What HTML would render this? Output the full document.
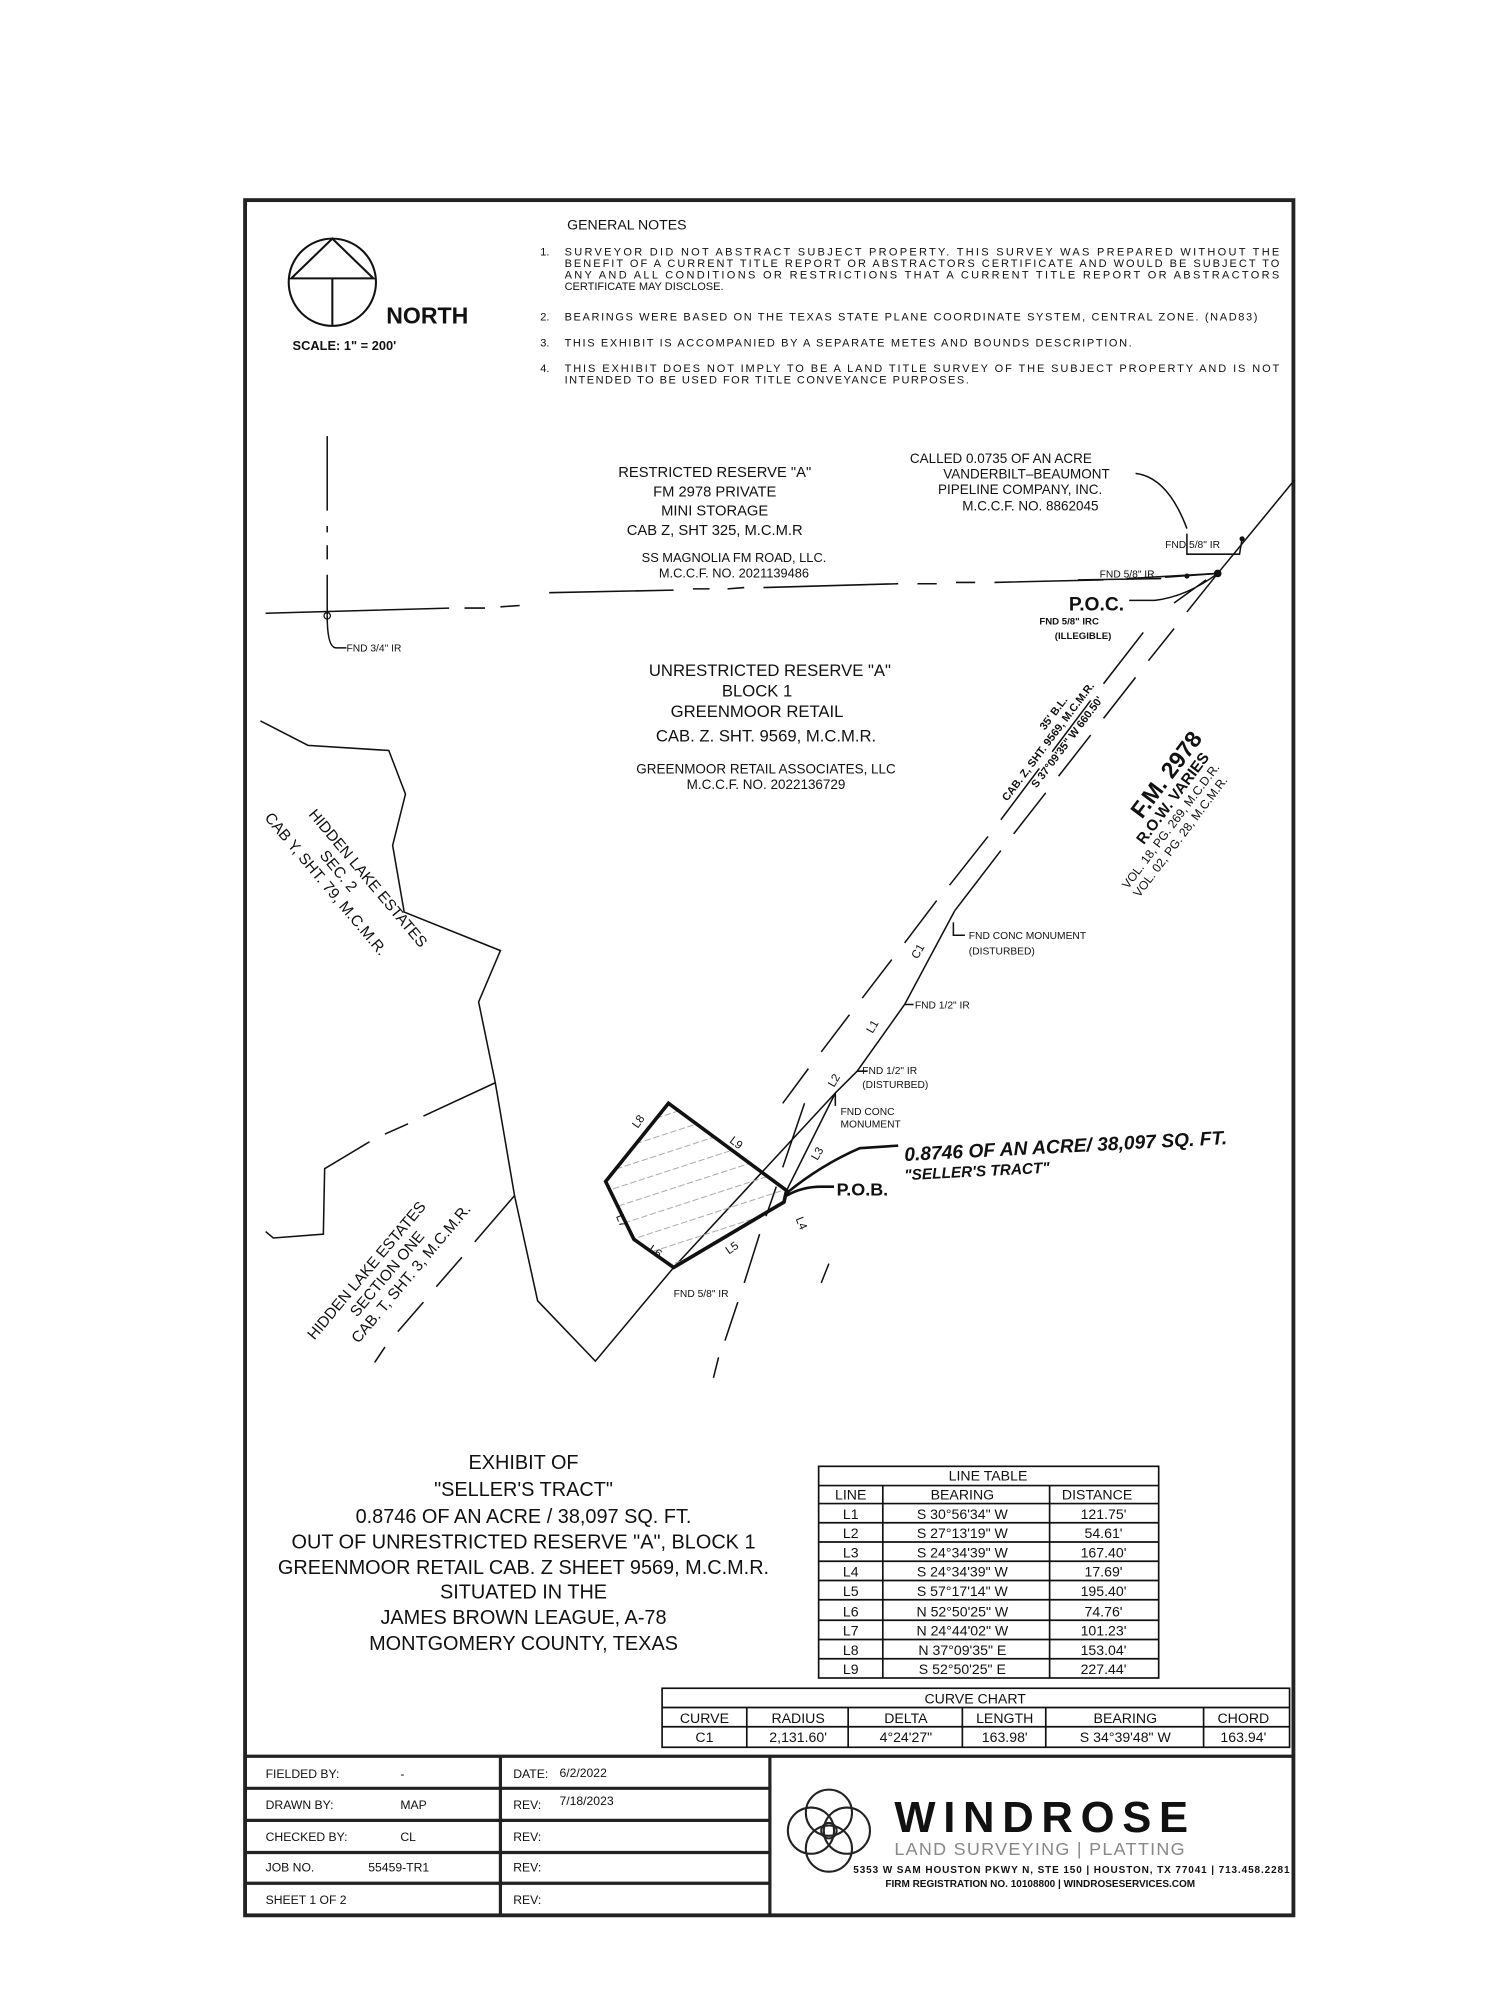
<!DOCTYPE html>
<html><head><meta charset="utf-8"><style>
html,body{margin:0;padding:0;background:#fff}
svg{display:block}
text{font-family:"Liberation Sans",sans-serif;fill:#111}
</style></head><body>
<svg width="1500" height="2000" viewBox="0 0 1169 1559" preserveAspectRatio="none" xmlns="http://www.w3.org/2000/svg">
<rect x="191" y="156" width="817" height="1337" fill="none" stroke="#222" stroke-width="3"/>
<!-- North -->
<circle cx="259" cy="220" r="34" fill="none" stroke="#111" stroke-width="1.6"/>
<path d="M259 186 L227 217 L291 217 Z M259 217 L259 254" fill="none" stroke="#111" stroke-width="1.6"/>
<text x="301" y="252" font-size="18" font-weight="bold">NORTH</text>
<text x="228" y="273" font-size="10" font-weight="bold">SCALE: 1" = 200'</text>
<!-- notes -->
<g font-size="8.6">
<text x="442" y="179" font-size="11">GENERAL NOTES</text>
<text x="421" y="199">1.</text>
<text x="440" y="199" textLength="557">SURVEYOR DID NOT ABSTRACT SUBJECT PROPERTY. THIS SURVEY WAS PREPARED WITHOUT THE</text>
<text x="440" y="208" textLength="557">BENEFIT OF A CURRENT TITLE REPORT OR ABSTRACTORS CERTIFICATE AND WOULD BE SUBJECT TO</text>
<text x="440" y="217" textLength="557">ANY AND ALL CONDITIONS OR RESTRICTIONS THAT A CURRENT TITLE REPORT OR ABSTRACTORS</text>
<text x="440" y="226">CERTIFICATE MAY DISCLOSE.</text>
<text x="421" y="250">2.</text>
<text x="440" y="250" textLength="540">BEARINGS WERE BASED ON THE TEXAS STATE PLANE COORDINATE SYSTEM, CENTRAL ZONE. (NAD83)</text>
<text x="421" y="270">3.</text>
<text x="440" y="270" textLength="442">THIS EXHIBIT IS ACCOMPANIED BY A SEPARATE METES AND BOUNDS DESCRIPTION.</text>
<text x="421" y="290">4.</text>
<text x="440" y="290" textLength="557">THIS EXHIBIT DOES NOT IMPLY TO BE A LAND TITLE SURVEY OF THE SUBJECT PROPERTY AND IS NOT</text>
<text x="440" y="299" textLength="315">INTENDED TO BE USED FOR TITLE CONVEYANCE PURPOSES.</text>
</g>
<!-- top left lines -->
<g stroke="#111" stroke-width="1.2" fill="none">
<path d="M255 340 V398 M255 410 V415 M255 425 V436 M255 448 V480"/>
<path d="M207 478 L350 474 M362 474 L378 474 M390 473 L405 472"/>
<path d="M255 480 Q255 505 262 505 L270 505"/>
<path d="M428 462 L525 460 M540 459 L553 459 M567 459 L580 458 M595 458 L700 455 M715 455 L730 455 M745 454 L760 454 M775 454 L860 452 M878 451 L949 447"/>
<path d="M1009 374 L949 447"/>
<path d="M949 447 L925 477 M915 490 L895 515 M885 528 L860 560 M850 573 L825 605 M815 618 L790 650 M780 663 L744 710" />
<path d="M744 710 L705 783 L668 835 L651 852 L613 928"/>
<path d="M891 493 L860 533 M850 546 L820 586 M810 599 L780 639 M770 652 L740 690 M730 702 L705 735 M695 748 L672 778 M662 791 L640 820 M630 833 L610 860"/>
<path d="M651 852 L525 988 L464 1061 L419 1014 L401 932 L386 844 L373 781 L390 741 L315 711 L306 659 L316 619 L303 585 L240 581 L203 562"/>
<path d="M386 844 L330 870 M318 876 L300 884 M288 890 L253 911 L252 962 L213 965 L207 960"/>
<path d="M401 932 L370 968 M360 980 L340 1003 M330 1015 L310 1038 M300 1050 L292 1062"/>
<path d="M627 860 L610 910 M605 925 L597 948 M592 962 L580 1000 M575 1015 L565 1045 M560 1058 L556 1074"/>
<path d="M925 416 L925 432 L966 432 L968 420 M908 450 L949 447 M840 452 L905 451"/>
<path d="M880 468 L900 468 Q925 465 949 447 M915 470 L940 452"/>
<path d="M885 369 Q910 372 925 412"/>
<path d="M743 719 L743 729 L752 729 M705 783 L712 783 M668 835 L676 835 M651 852 L651 862 M640 1000 L646 985"/>
</g>
<circle cx="968" cy="420" r="2" fill="#111"/><circle cx="949" cy="447" r="3" fill="#111"/><circle cx="925" cy="449" r="2" fill="#111"/>
<circle cx="255" cy="480" r="2.5" fill="none" stroke="#111"/>
<!-- tract -->
<defs><pattern id="h" width="14" height="14" patternUnits="userSpaceOnUse" patternTransform="rotate(-18)"><line x1="0" y1="7" x2="14" y2="7" stroke="#aaa" stroke-width="0.8" stroke-dasharray="5 2"/></pattern></defs>
<polygon points="521,860 613,928 611,937 525,988 494,966 472,921" fill="url(#h)" stroke="#111" stroke-width="2.8"/>
<path d="M613 930 Q640 908 670 895 L700 893 M613 932 Q625 925 640 925 L650 925" stroke="#111" stroke-width="2" fill="none"/>
<!-- labels -->
<g font-size="11.5" text-anchor="middle">
<text x="557" y="372">RESTRICTED RESERVE "A"</text>
<text x="557" y="387">FM 2978 PRIVATE</text>
<text x="557" y="402">MINI STORAGE</text>
<text x="557" y="417">CAB Z, SHT 325, M.C.M.R</text>
<text x="572" y="438" font-size="10">SS MAGNOLIA FM ROAD, LLC.</text>
<text x="572" y="450" font-size="10">M.C.C.F. NO. 2021139486</text>
<text x="780" y="361" font-size="10.5">CALLED 0.0735 OF AN ACRE</text>
<text x="800" y="373" font-size="10.5">VANDERBILT–BEAUMONT</text>
<text x="795" y="385" font-size="10.5">PIPELINE COMPANY, INC.</text>
<text x="803" y="398" font-size="10.5">M.C.C.F. NO. 8862045</text>
<text x="600" y="527" font-size="13">UNRESTRICTED RESERVE "A"</text>
<text x="590" y="543" font-size="13">BLOCK 1</text>
<text x="590" y="559" font-size="13">GREENMOOR RETAIL</text>
<text x="597" y="578" font-size="13">CAB. Z. SHT. 9569, M.C.M.R.</text>
<text x="597" y="603" font-size="10.5">GREENMOOR RETAIL ASSOCIATES, LLC</text>
<text x="597" y="615" font-size="10.5">M.C.C.F. NO. 2022136729</text>
</g>
<g font-size="8">
<text x="908" y="427">FND 5/8" IR</text>
<text x="857" y="450">FND 5/8" IR</text>
<text x="270" y="508">FND 3/4" IR</text>
<text x="755" y="732">FND CONC MONUMENT</text>
<text x="755" y="744">(DISTURBED)</text>
<text x="713" y="786">FND 1/2" IR</text>
<text x="672" y="837">FND 1/2" IR</text>
<text x="672" y="848">(DISTURBED)</text>
<text x="655" y="869">FND CONC</text>
<text x="655" y="879">MONUMENT</text>
<text x="525" y="1011">FND 5/8" IR</text>
</g>
<text x="833" y="476" font-size="15" font-weight="bold">P.O.C.</text>
<text x="810" y="487" font-size="7.5" font-weight="bold">FND 5/8" IRC</text>
<text x="822" y="498" font-size="7.5" font-weight="bold">(ILLEGIBLE)</text>
<text x="652" y="932" font-size="14" font-weight="bold">P.O.B.</text>
<text x="705" y="905" font-size="15" font-weight="bold" font-style="italic" transform="rotate(-3 705 905)">0.8746 OF AN ACRE/ 38,097 SQ. FT.</text>
<text x="705" y="920" font-size="12" font-weight="bold" font-style="italic" transform="rotate(-3 705 920)">"SELLER'S TRACT"</text>
<g font-size="9">
<text transform="translate(497,880) rotate(-55)">L8</text>
<text transform="translate(568,890) rotate(38)">L9</text>
<text transform="translate(480,948) rotate(68)">L7</text>
<text transform="translate(505,975) rotate(35)">L6</text>
<text transform="translate(568,978) rotate(-35)">L5</text>
<text transform="translate(620,950) rotate(68)">L4</text>
<text transform="translate(637,905) rotate(-60)">L3</text>
<text transform="translate(650,848) rotate(-60)">L2</text>
<text transform="translate(680,806) rotate(-60)">L1</text>
<text transform="translate(715,748) rotate(-60)">C1</text>
</g>
<g font-size="12" transform="translate(240,635) rotate(50)">
<text x="0" y="0">HIDDEN LAKE ESTATES</text><text x="30" y="14">SEC. 2</text><text x="-20" y="28">CAB Y, SHT. 79, M.C.M.R.</text>
</g>
<g font-size="12" transform="translate(245,1045) rotate(-50)">
<text x="0" y="0">HIDDEN LAKE ESTATES</text><text x="35" y="14">SECTION ONE</text><text x="20" y="28">CAB. T, SHT. 3, M.C.M.R.</text>
</g>
<g transform="translate(785,625) rotate(-53)" font-weight="bold">
<text x="0" y="0" font-size="8.5">CAB. Z, SHT. 9569, M.C.M.R.</text>
<text x="62" y="-10" font-size="8.5">35' B.L.</text>
<text x="22" y="12" font-size="8.5">S 37°09'35" W 660.50'</text>
</g>
<g transform="translate(878,655) rotate(-53)" font-weight="bold">
<text x="20" y="0" font-size="18">F.M. 2978</text>
<text x="5" y="13" font-size="12">R.O.W. VARIES</text>
<text x="-30" y="24" font-size="9.5" font-weight="normal">VOL. 18, PG. 269, M.C.D.R.</text>
<text x="-30" y="35" font-size="9.5" font-weight="normal">VOL. 02, PG. 28, M.C.M.R.</text>
</g>
<!-- exhibit text -->
<g font-size="15.5" text-anchor="middle">
<text x="408" y="1145">EXHIBIT OF</text>
<text x="408" y="1166">"SELLER'S TRACT"</text>
<text x="408" y="1187">0.8746 OF AN ACRE / 38,097 SQ. FT.</text>
<text x="408" y="1207">OUT OF UNRESTRICTED RESERVE "A", BLOCK 1</text>
<text x="408" y="1227">GREENMOOR RETAIL CAB. Z SHEET 9569, M.C.M.R.</text>
<text x="408" y="1246">SITUATED IN THE</text>
<text x="408" y="1266">JAMES BROWN LEAGUE, A-78</text>
<text x="408" y="1286">MONTGOMERY COUNTY, TEXAS</text>
</g>
<!-- line table -->
<g stroke="#111" stroke-width="1.3" fill="none">
<rect x="638" y="1143" width="265" height="165"/>
<path d="M638 1158 H903 M638 1172 H903 M688 1158 V1308 M818 1158 V1308"/>
<path d="M638 1187 H903 M638 1202 H903 M638 1217 H903 M638 1232 H903 M638 1247 H903 M638 1263 H903 M638 1278 H903 M638 1293 H903"/>
<rect x="516" y="1316" width="489" height="46"/>
<path d="M516 1331 H1005 M516 1346 H1005 M582 1331 V1362 M661 1331 V1362 M750 1331 V1362 M815 1331 V1362 M938 1331 V1362"/>
</g>
<g font-size="11" text-anchor="middle">
<text x="770" y="1154">LINE TABLE</text>
<text x="663" y="1169">LINE</text><text x="750" y="1169">BEARING</text><text x="855" y="1169">DISTANCE</text>
<text x="663" y="1184">L1</text><text x="750" y="1184">S 30°56'34" W</text><text x="860" y="1184">121.75'</text>
<text x="663" y="1199">L2</text><text x="750" y="1199">S 27°13'19" W</text><text x="860" y="1199">54.61'</text>
<text x="663" y="1214">L3</text><text x="750" y="1214">S 24°34'39" W</text><text x="860" y="1214">167.40'</text>
<text x="663" y="1229">L4</text><text x="750" y="1229">S 24°34'39" W</text><text x="860" y="1229">17.69'</text>
<text x="663" y="1244">L5</text><text x="750" y="1244">S 57°17'14" W</text><text x="860" y="1244">195.40'</text>
<text x="663" y="1260">L6</text><text x="750" y="1260">N 52°50'25" W</text><text x="860" y="1260">74.76'</text>
<text x="663" y="1275">L7</text><text x="750" y="1275">N 24°44'02" W</text><text x="860" y="1275">101.23'</text>
<text x="663" y="1290">L8</text><text x="750" y="1290">N 37°09'35" E</text><text x="860" y="1290">153.04'</text>
<text x="663" y="1305">L9</text><text x="750" y="1305">S 52°50'25" E</text><text x="860" y="1305">227.44'</text>
<text x="760" y="1328">CURVE CHART</text>
<text x="549" y="1343">CURVE</text><text x="622" y="1343">RADIUS</text><text x="706" y="1343">DELTA</text><text x="783" y="1343">LENGTH</text><text x="877" y="1343">BEARING</text><text x="969" y="1343">CHORD</text>
<text x="549" y="1358">C1</text><text x="622" y="1358">2,131.60'</text><text x="706" y="1358">4°24'27"</text><text x="783" y="1358">163.98'</text><text x="877" y="1358">S 34°39'48" W</text><text x="969" y="1358">163.94'</text>
</g>
<!-- title block -->
<g stroke="#222" stroke-width="2.5" fill="none">
<path d="M191 1369 H1008 M191 1394 H600 M191 1419 H600 M191 1444 H600 M191 1468 H600 M390 1369 V1493 M600 1369 V1493"/>
</g>
<g font-size="9.5">
<text x="207" y="1386">FIELDED BY:</text><text x="312" y="1386">-</text><text x="400" y="1386">DATE:</text><text x="436" y="1385">6/2/2022</text>
<text x="207" y="1410">DRAWN BY:</text><text x="312" y="1410">MAP</text><text x="400" y="1410">REV:</text><text x="436" y="1407">7/18/2023</text>
<text x="207" y="1435">CHECKED BY:</text><text x="312" y="1435">CL</text><text x="400" y="1435">REV:</text>
<text x="207" y="1459">JOB NO.</text><text x="287" y="1459">55459-TR1</text><text x="400" y="1459">REV:</text>
<text x="207" y="1484">SHEET 1 OF 2</text><text x="400" y="1484">REV:</text>
</g>
<g fill="none" stroke="#222" stroke-width="1.6">
<circle cx="646" cy="1413" r="18"/><circle cx="646" cy="1441" r="18"/><circle cx="632" cy="1427" r="18"/><circle cx="660" cy="1427" r="18"/><circle cx="646" cy="1427" r="6"/>
</g>
<text x="697" y="1428" font-size="34" font-weight="bold" letter-spacing="6">WINDROSE</text>
<text x="697" y="1446" font-size="14" letter-spacing="1" style="fill:#888">LAND SURVEYING | PLATTING</text>
<text x="665" y="1460" font-size="7.8" font-weight="bold" textLength="340">5353 W SAM HOUSTON PKWY N, STE 150 | HOUSTON, TX 77041 | 713.458.2281</text>
<text x="690" y="1471" font-size="7.8" font-weight="bold">FIRM REGISTRATION NO. 10108800 | WINDROSESERVICES.COM</text>
</svg>
</body></html>
